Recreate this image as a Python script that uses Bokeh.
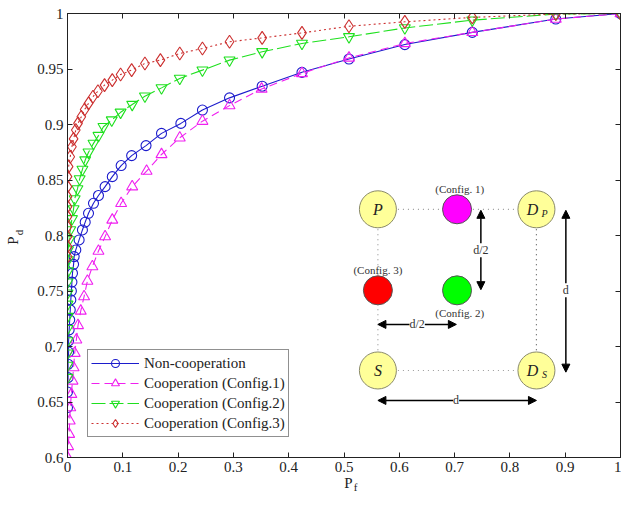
from bokeh.plotting import figure
from bokeh.models import (LinearAxis, Range1d, Label, Arrow, NormalHead, Legend,
                          LegendItem, FixedTicker, CustomLabelingPolicy)
from bokeh.core.properties import value
from bokeh.embed import file_html
from bokeh.resources import INLINE

# ---------------- data ----------------
x_ticks = [0, 0.1, 0.2, 0.3, 0.4, 0.5, 0.6, 0.7, 0.8, 0.9, 1.0]
x_tick_labels = ["0", "0.1", "0.2", "0.3", "0.4", "0.5", "0.6", "0.7", "0.8", "0.9", "1"]
y_ticks = [0.6, 0.65, 0.7, 0.75, 0.8, 0.85, 0.9, 0.95, 1.0]
y_tick_labels = ["0.6", "0.65", "0.7", "0.75", "0.8", "0.85", "0.9", "0.95", "1"]

noncoop_pf = [0.000, 0.000, 0.001, 0.001, 0.002, 0.002, 0.003, 0.004, 0.005, 0.006,
              0.007, 0.008, 0.009, 0.011, 0.012, 0.015, 0.021, 0.027, 0.032, 0.038,
              0.047, 0.056, 0.068, 0.081, 0.097, 0.116, 0.142, 0.170, 0.205, 0.244,
              0.293, 0.352, 0.424, 0.509, 0.610, 0.732, 0.883, 1.000]
noncoop_pd = [0.645, 0.659, 0.672, 0.684, 0.695, 0.705, 0.715, 0.724, 0.733, 0.742,
              0.750, 0.758, 0.766, 0.774, 0.781, 0.787, 0.796, 0.805, 0.812, 0.820,
              0.829, 0.836, 0.844, 0.853, 0.863, 0.872, 0.881, 0.892, 0.901, 0.913,
              0.924, 0.9345, 0.947, 0.959, 0.972, 0.983, 0.995, 1.000]

conf1_pf = [0.000, 0.001, 0.003, 0.004, 0.005, 0.007, 0.009, 0.011, 0.013, 0.016,
            0.019, 0.024, 0.030, 0.036, 0.045, 0.056, 0.068, 0.081, 0.097, 0.117,
            0.143, 0.170, 0.203, 0.244, 0.293, 0.351, 0.424, 0.509, 0.610, 0.732,
            0.883, 1.000]
conf1_pd = [0.600, 0.610, 0.621, 0.633, 0.645, 0.657, 0.669, 0.681, 0.694, 0.706,
            0.719, 0.732, 0.745, 0.759, 0.772, 0.786, 0.799, 0.814, 0.829, 0.844,
            0.858, 0.873, 0.888, 0.903, 0.917, 0.932, 0.946, 0.960, 0.973, 0.983,
            0.995, 1.000]

conf2_pf = [0.000, 0.000, 0.000, 0.000, 0.000, 0.000, 0.000, 0.000, 0.000, 0.001,
            0.001, 0.001, 0.003, 0.005, 0.008, 0.011, 0.013, 0.018, 0.022, 0.027,
            0.032, 0.038, 0.047, 0.056, 0.065, 0.080, 0.096, 0.117, 0.140, 0.170,
            0.203, 0.244, 0.293, 0.352, 0.424, 0.509, 0.610, 0.732, 0.883, 1.000]
conf2_pd = [0.672, 0.683, 0.694, 0.705, 0.716, 0.727, 0.738, 0.748, 0.758, 0.768,
            0.778, 0.787, 0.796, 0.805, 0.815, 0.824, 0.833, 0.842, 0.851, 0.8595,
            0.868, 0.875, 0.883, 0.890, 0.898, 0.904, 0.911, 0.918, 0.9255, 0.933,
            0.9415, 0.949, 0.958, 0.9655, 0.973, 0.979, 0.987, 0.994, 0.9995, 1.000]

conf3_pf = [0.000, 0.000, 0.000, 0.000, 0.000, 0.000, 0.000, 0.000, 0.000, 0.002,
            0.005, 0.008, 0.011, 0.015, 0.019, 0.025, 0.031, 0.038, 0.046, 0.055,
            0.067, 0.081, 0.096, 0.116, 0.140, 0.168, 0.203, 0.244, 0.293, 0.352,
            0.424, 0.509, 0.610, 0.732, 0.883, 1.000]
conf3_pd = [0.781, 0.790, 0.799, 0.808, 0.817, 0.826, 0.835, 0.844, 0.853, 0.862,
            0.871, 0.880, 0.887, 0.895, 0.901, 0.907, 0.9135, 0.919, 0.925, 0.930,
            0.9355, 0.940, 0.945, 0.949, 0.955, 0.958, 0.964, 0.9685, 0.9745, 0.978,
            0.9825, 0.9885, 0.9925, 0.9965, 0.9995, 1.000]

series_labels = ["Non-cooperation", "Cooperation (Config.1)",
                 "Cooperation (Config.2)", "Cooperation (Config.3)"]

# ---------------- figure ----------------
SERIF = "Liberation Serif"

p = figure(width=621, height=493, x_range=Range1d(0, 1), y_range=Range1d(0.6, 1),
           output_backend="svg", toolbar_location=None,
           min_border_left=67, min_border_right=1, min_border_top=13, min_border_bottom=36)
p.grid.visible = False
p.outline_line_color = "#222222"
p.outline_line_width = 1
p.background_fill_color = "white"
p.border_fill_color = "white"

no_labels = CustomLabelingPolicy(code="""
    const all = [...indices]
    for (const i of all) indices.unset(i)
    return indices
""")

def style_axis(ax, ticks, labels, show_labels=True):
    ax.ticker = FixedTicker(ticks=ticks)
    ax.major_label_overrides = {t: l for t, l in zip(ticks, labels)}
    ax.major_tick_in = 5
    ax.major_tick_out = 0
    ax.minor_tick_line_color = None
    ax.axis_line_color = "#222222"
    ax.major_tick_line_color = "#222222"
    ax.major_label_text_font = SERIF
    ax.major_label_text_color = "#222222"
    if show_labels:
        ax.major_label_text_font_size = "15px"
        ax.major_label_standoff = 4
    else:
        ax.major_label_text_font_size = "0px"
        ax.major_label_standoff = 0
        ax.major_label_policy = no_labels

style_axis(p.xaxis[0], x_ticks, x_tick_labels)
style_axis(p.yaxis[0], y_ticks, y_tick_labels)
top_ax = LinearAxis()
style_axis(top_ax, x_ticks, x_tick_labels, show_labels=False)
p.add_layout(top_ax, "above")
right_ax = LinearAxis()
style_axis(right_ax, y_ticks, y_tick_labels, show_labels=False)
p.add_layout(right_ax, "right")

# ---------------- curves ----------------
BLUE = "#1c1ccc"
MAG = "#f020f0"
GRN = "#1ee01e"
RED = "#cc3030"

l1 = p.line(noncoop_pf, noncoop_pd, line_color=BLUE, line_width=1.1)
s1 = p.scatter(noncoop_pf, noncoop_pd, marker="circle", size=10, fill_color=None,
               line_color=BLUE, line_width=1.1)
l2 = p.line(conf1_pf, conf1_pd, line_color=MAG, line_width=1.1, line_dash="8 5")
s2 = p.scatter(conf1_pf, conf1_pd, marker="triangle", size=11, fill_color=None,
               line_color=MAG, line_width=1.1)
l3 = p.line(conf2_pf, conf2_pd, line_color=GRN, line_width=1.1, line_dash="14 4")
s3 = p.scatter(conf2_pf, conf2_pd, marker="inverted_triangle", size=11, fill_color=None,
               line_color=GRN, line_width=1.1)
l4 = p.line(conf3_pf, conf3_pd, line_color=RED, line_width=1.1, line_dash="2 3")
s4 = p.scatter(conf3_pf, conf3_pd, marker="diamond", size=13, fill_color=None,
               line_color=RED, line_width=1.1)

legend = Legend(items=[LegendItem(label=series_labels[0], renderers=[l1, s1]),
                       LegendItem(label=series_labels[1], renderers=[l2, s2]),
                       LegendItem(label=series_labels[2], renderers=[l3, s3]),
                       LegendItem(label=series_labels[3], renderers=[l4, s4])],
                location=(20, 20), label_text_font=SERIF, label_text_font_size="15px",
                label_text_color="#222222", glyph_width=48, glyph_height=20,
                label_height=20, spacing=0, padding=3, margin=0, label_standoff=5,
                border_line_color="#222222", border_line_width=1,
                background_fill_color="white", background_fill_alpha=1.0)
p.add_layout(legend)

# ---------------- axis titles (canvas pixel units, held in side panels) ----
title_font = dict(text_font=SERIF, text_color="#222222", text_align="center",
                  text_baseline="middle", x_units="canvas", y_units="canvas")
p.add_layout(Label(x=348, y=482, text="P", text_font_size="15px", **title_font), "left")
p.add_layout(Label(x=355, y=486, text="f", text_font_size="11px", **title_font), "left")
p.add_layout(Label(x=12, y=240, text="P", text_font_size="15px", angle=1.5708,
                   **title_font), "left")
p.add_layout(Label(x=18, y=232, text="d", text_font_size="11px", angle=1.5708,
                   **title_font), "below")

# ---------------- inset diagram ----------------
XL, XM, XR = 0.5613, 0.7044, 0.848
YT, YM, YB = 0.8236, 0.7506, 0.6784
DOT = "#9a9a9a"
p.segment(x0=[XL, XL, XL, XR], y0=[YT, YB, YT, YT], x1=[XR, XR, XL, XR], y1=[YT, YB, YB, YB],
          line_color=[DOT, DOT, DOT, "#555555"], line_dash="1 4", line_width=1.2)

p.scatter([XL, XR, XL, XR], [YT, YT, YB, YB], marker="circle", size=37,
          fill_color="#ffff99", line_color="#8a8a6a", line_width=1)
p.scatter([XM, XL, XM], [YT, YM, YM], marker="circle", size=29,
          fill_color=["#ff00ff", "#ff0000", "#00ff00"], line_color="#555555", line_width=1)

node_font = dict(text_font=value(SERIF), text_font_style="italic", text_align="center",
                 text_baseline="middle", text_color="#222222")
p.text(x=[XL, XL], y=[YT, YB], text=["P", "S"], text_font_size="16px", **node_font)
p.text(x=[XR, XR], y=[YT, YB], text=["D", "D"], x_offset=-4, text_font_size="16px",
       **node_font)
p.text(x=[XR, XR], y=[YT, YB], text=["P", "S"], x_offset=8, y_offset=4,
       text_font_size="10px", **node_font)

cfg_font = dict(text_font=value(SERIF), text_align="center", text_baseline="middle",
                text_color="#333333", text_font_size="11px")
p.text(x=[0.7092, 0.5613, 0.7092], y=[0.8423, 0.7686, 0.7301],
       text=["(Config. 1)", "(Config. 3)", "(Config. 2)"], **cfg_font)

def head():
    return NormalHead(size=8, fill_color="black", line_color="black")

arrows = [(0.7475, 0.8227, 0.7475, 0.7512),
          (0.5613, 0.7199, 0.7032, 0.7199),
          (0.9012, 0.8227, 0.9012, 0.6769),
          (0.5613, 0.6514, 0.848, 0.6514)]
for xs, ys, xe, ye in arrows:
    p.add_layout(Arrow(start=head(), end=head(), x_start=xs, y_start=ys, x_end=xe,
                       y_end=ye, line_width=1.5, line_color="black"))

for x, y, t in [(0.7475, 0.7867, "d/2"), (0.6323, 0.7199, "d/2"),
                (0.9012, 0.7506, "d"), (0.7027, 0.6514, "d")]:
    p.add_layout(Label(x=x, y=y, text=t, text_font=SERIF, text_font_size="12px",
                       text_align="center", text_baseline="middle", text_color="#333333",
                       background_fill_color="white", background_fill_alpha=1.0))

open("out.html", "w").write(file_html(p, INLINE))
